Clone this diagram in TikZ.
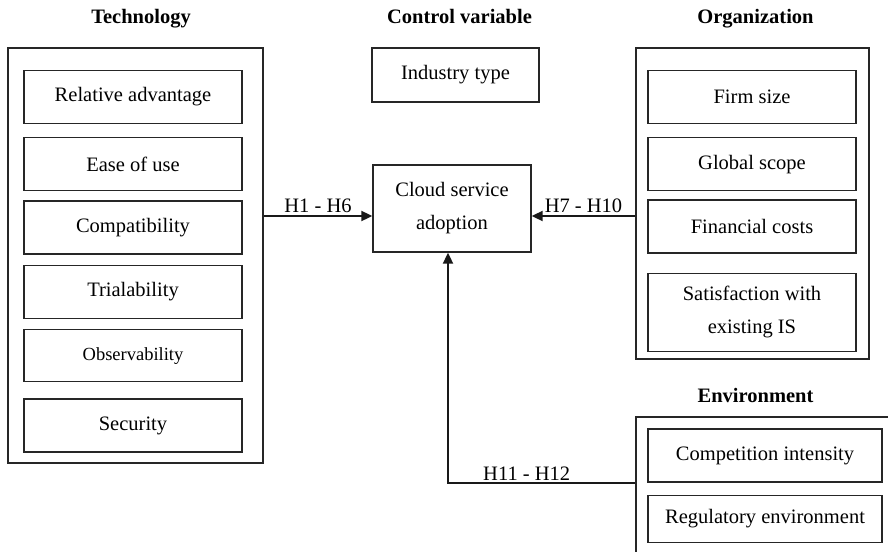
\documentclass[tikz,border=0pt]{standalone}
\usepackage{fontspec}
\setmainfont{Liberation Serif}
\usetikzlibrary{positioning}
\usetikzlibrary{arrows.meta}
\tikzset{
	>={Triangle[length=11pt,width=10pt]},
	factor/.style={
		rectangle,
		draw=black!85, line width=1.3pt,
		minimum height=53pt,
		inner sep=0pt,
		align=center},
	group/.style={
		rectangle,
		draw=black!85, line width=1.3pt,
		inner sep=0pt},
	heading/.style={anchor=base, font=\fontsize{20.5}{33}\selectfont\bfseries},
	link/.style={draw=black!90, line width=1.8pt, ->},
	hlabel/.style={above, inner sep=2pt},
}
\begin{document}
\begin{tikzpicture}
			[x=1pt, y=-1pt,
			font=\fontsize{20.5}{33}\selectfont]
			\useasboundingbox (0,0) rectangle (888,551);
			\clip (0,0) rectangle (888,551);
			% technology
			\node[heading] (techhead) at (141,24) {Technology};
			\node[group, minimum width=255pt, minimum height=415pt] (tech) at (135.5,255.5) {};
			\node[factor, minimum width=218pt] (reladv) at (133,97) {Relative advantage};
			\node[factor, minimum width=218pt, below=13pt of reladv] (ease) {Ease of use};
			\node[factor, minimum width=218pt, below=9pt of ease] (compat) {Compatibility};
			\node[factor, minimum width=218pt, below=10pt of compat] (trial) {Trialability};
			\node[factor, minimum width=218pt, minimum height=52pt, below=10pt of trial,
				font=\fontsize{18.5}{22}\selectfont] (observ) {Observability};
			\node[factor, minimum width=218pt, below=16pt of observ] (secur) {Security};
			% control variable
			\node[heading] (ctrlhead) at (459.5,24) {Control variable};
			\node[factor, minimum width=167pt, minimum height=54pt] (industry) at (455.5,75) {Industry type};
			% adoption
			\node[factor, minimum width=158pt, minimum height=87pt] (cloud) at (452,208.5) {Cloud service\\adoption};
			% organization
			\node[heading] (orghead) at (755.5,24) {Organization};
			\node[group, minimum width=233pt, minimum height=311pt] (org) at (752.5,203.5) {};
			\node[factor, minimum width=208pt] (firm) at (752,97) {Firm size};
			\node[factor, minimum width=208pt, below=13pt of firm] (global) {Global scope};
			\node[factor, minimum width=208pt, below=8pt of global] (fincost) {Financial costs};
			\node[factor, minimum width=208pt, minimum height=78pt, below=19pt of fincost] (satis) {Satisfaction with\\existing IS};
			% environment
			\node[heading] (envhead) at (755.5,402) {Environment};
			\node[group, minimum width=264pt, minimum height=153pt] (env) at (768,493.5) {};
			\node[factor, minimum width=234pt] (compet) at (765,455.5) {Competition intensity};
			\node[factor, minimum width=234pt, minimum height=47pt, below=12pt of compet] (regul) {Regulatory environment};
			% hypotheses
			\coordinate (mid) at (452,216);
			\coordinate (bend) at (448,483);
			\draw[link] (tech.east |- mid) -- (cloud.west |- mid) node[midway, hlabel] {H1 - H6};
			\draw[link] (org.west |- mid) -- (cloud.east |- mid) node[midway, hlabel] {H7 - H10};
			\draw[link] (env.north west |- bend) -- node[pos=0.58, hlabel] {H11 - H12} (bend) -- (bend |- cloud.south);
\end{tikzpicture}
\end{document}
